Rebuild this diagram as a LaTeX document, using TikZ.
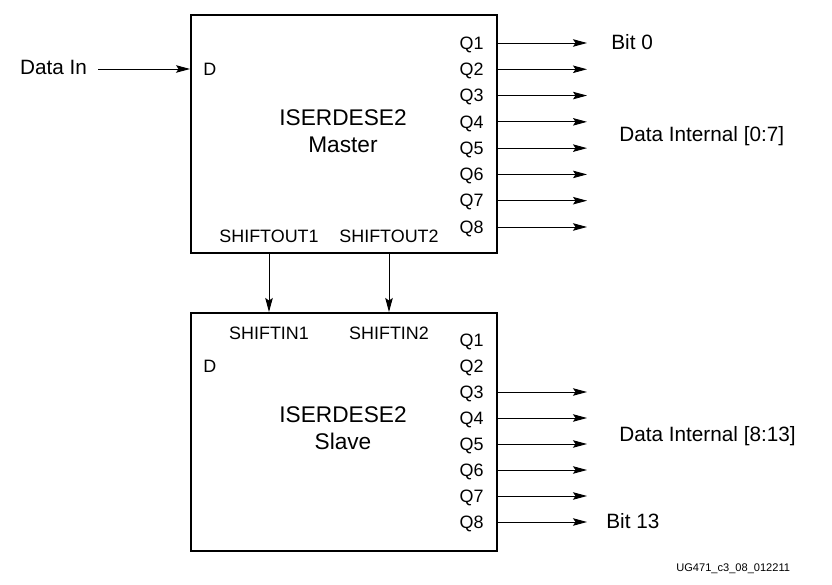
\documentclass[tikz,border=0pt]{standalone}
\usepackage{fontspec}
\setmainfont{Liberation Sans}
\usetikzlibrary{arrows.meta,positioning,calc}

\begin{document}
\begin{tikzpicture}[
  block/.style={draw,line width=1.1pt,minimum width=6.12cm,minimum height=4.76cm,inner sep=0pt},
  port/.style={font=\fontsize{10.2}{12}\selectfont,inner sep=0pt},
  lbl/.style={font=\fontsize{11.8}{14}\selectfont,inner sep=0pt},
  title/.style={align=center,font=\fontsize{12.9}{15.3}\selectfont},
  sig/.style={line width=0.5pt,-{Stealth[length=2.8mm,width=1.5mm,inset=0.5mm]}}
]
  \useasboundingbox (0,0) rectangle (16.64,11.7);

  % the two blocks
  \node[block] (master) at (6.88,9.02) {};
  \node[block] (slave) at (6.88,3.06) {};
  \node[title] (mtitle) at (6.86,9.07) {ISERDESE2\\Master};
  \node[title] (stitle) at (6.86,3.13) {ISERDESE2\\Slave};

  % serial input
  \node[lbl,anchor=base] (datain) at (1.07,10.2) {Data In};
  \node[port,anchor=base west] (md) at (4.06,10.18) {D};
  \node[port,anchor=base west] (sd) at (4.06,4.24) {D};
  \coordinate (dinend) at (1.96,10.32);
  \draw[sig] (dinend) -- (master.west |- dinend);

  % master outputs
  \foreach \i in {1,...,8}{
    \coordinate (mo\i) at (11.74,{10.84-0.5257*(\i-1)});
    \node[port,anchor=base east] (mq\i) at (9.68,{10.715-0.5257*(\i-1)}) {Q\i};
    \draw[sig] (master.east |- mo\i) -- (mo\i);
  }

  % slave outputs
  \foreach \i in {1,...,8}{
    \node[port,anchor=base east] (sq\i) at (9.68,{4.775-0.52*(\i-1)}) {Q\i};
  }
  \foreach \i in {3,...,8}{
    \coordinate (so\i) at (11.74,{4.9-0.52*(\i-1)});
    \draw[sig] (slave.east |- so\i) -- (so\i);
  }

  % cascade
  \node[port] (sout1) at (5.38,6.98) {SHIFTOUT1};
  \node[port] (sout2) at (7.78,6.98) {SHIFTOUT2};
  \node[port] (sin1) at (5.38,5.04) {SHIFTIN1};
  \node[port] (sin2) at (7.78,5.04) {SHIFTIN2};
  \draw[sig] (master.south -| sout1) -- (slave.north -| sout1);
  \draw[sig] (master.south -| sout2) -- (slave.north -| sout2);

  % output labels
  \node[lbl,anchor=base west] (bit0) at (12.22,10.7) {Bit 0};
  \node[lbl,anchor=base west] (dint0) at (12.38,8.86) {Data Internal [0:7]};
  \node[lbl,anchor=base west] (dint1) at (12.38,2.86) {Data Internal [8:13]};
  \node[lbl,anchor=base west] (bit13) at (12.12,1.12) {Bit 13};

  \node[font=\fontsize{6.3}{8}\selectfont,anchor=west,inner sep=0pt] (figid) at (13.52,0.32) {UG471\_c3\_08\_012211};
\end{tikzpicture}
\end{document}
